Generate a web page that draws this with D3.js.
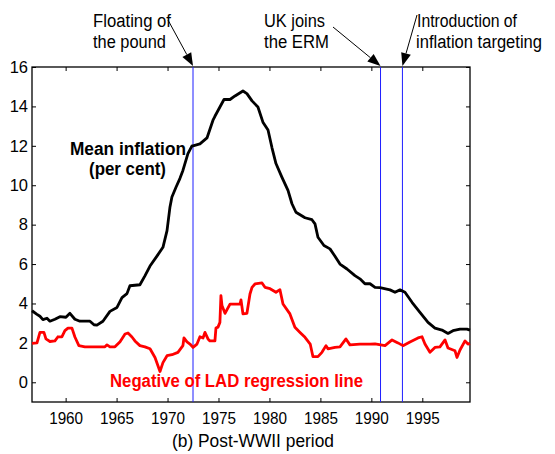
<!DOCTYPE html>
<html><head><meta charset="utf-8">
<script src="https://cdn.jsdelivr.net/npm/d3@7"></script>
<style>body{margin:0;background:#fff}svg{display:block;font-family:"Liberation Sans",Arial,sans-serif}</style>
</head><body>
<svg id="c" width="555" height="454"></svg>
<script>
const meanYears=[1956.70,1957.19,1957.48,1957.77,1958.17,1958.46,1958.95,1959.44,1960.03,1960.42,1960.91,1961.40,1962.39,1962.78,1963.07,1963.66,1964.35,1965.04,1965.53,1966.02,1966.31,1967.29,1967.78,1968.28,1968.96,1969.55,1969.95,1970.24,1970.43,1970.83,1971.22,1971.51,1972.00,1972.40,1972.50,1973.18,1973.87,1974.46,1974.65,1975.14,1975.54,1976.13,1976.62,1977.40,1977.79,1978.29,1978.87,1979.36,1979.86,1980.25,1980.64,1981.23,1981.82,1982.21,1982.60,1983.49,1984.17,1984.47,1984.76,1985.35,1985.94,1986.43,1986.92,1987.61,1988.39,1988.88,1989.37,1989.87,1990.36,1990.85,1991.83,1992.32,1992.81,1993.30,1993.99,1994.77,1995.56,1996.24,1996.93,1997.52,1998.01,1998.70,1999.38,1999.68];
const meanInflation=[3.63,3.45,3.35,3.18,3.25,3.10,3.20,3.33,3.30,3.50,3.20,3.10,3.10,2.92,2.90,3.10,3.60,3.80,4.30,4.50,4.90,4.95,5.40,5.90,6.40,6.85,7.70,8.90,9.40,9.90,10.35,10.75,11.60,12.00,12.00,12.10,12.40,13.30,13.50,13.97,14.35,14.35,14.53,14.78,14.65,14.28,13.97,13.20,12.80,11.90,11.10,10.40,9.74,9.06,8.63,8.35,8.25,8.04,7.36,6.94,6.77,6.40,6.00,5.75,5.41,5.25,5.00,5.00,4.82,4.80,4.69,4.57,4.69,4.57,4.06,3.55,3.04,2.75,2.65,2.48,2.62,2.70,2.70,2.65];
const ladYears=[1956.70,1957.19,1957.48,1957.87,1958.07,1958.46,1958.95,1959.25,1959.63,1959.93,1960.23,1960.62,1960.91,1961.30,1961.89,1963.37,1963.86,1964.06,1964.35,1964.84,1965.34,1965.83,1966.12,1966.51,1966.80,1967.29,1967.78,1968.28,1968.77,1969.06,1969.26,1969.55,1969.95,1970.43,1971.02,1971.51,1971.61,1971.91,1972.20,1972.50,1972.89,1973.18,1973.48,1973.67,1973.97,1974.16,1974.65,1974.75,1974.95,1975.14,1975.24,1975.34,1975.64,1976.13,1977.11,1977.21,1977.40,1977.79,1978.09,1978.29,1978.58,1979.27,1979.56,1980.06,1980.64,1981.03,1981.33,1982.01,1982.50,1983.00,1983.49,1984.00,1984.27,1984.76,1985.15,1985.55,1985.74,1986.43,1986.92,1987.51,1987.90,1988.88,1989.87,1990.36,1991.34,1992.03,1992.61,1993.10,1993.79,1994.58,1994.97,1995.26,1995.75,1996.24,1996.73,1997.23,1997.52,1998.21,1998.40,1998.70,1999.19,1999.48,1999.68];
const ladNegative=[1.97,2.00,2.53,2.53,2.20,2.07,2.10,2.31,2.30,2.62,2.75,2.75,2.30,1.86,1.80,1.80,1.80,1.90,1.80,1.80,2.06,2.45,2.50,2.30,2.10,1.86,1.80,1.70,1.26,0.84,0.55,1.00,1.35,1.40,1.52,1.86,2.25,2.05,1.94,1.77,1.94,2.31,2.25,2.53,2.20,2.10,2.10,2.75,2.80,3.04,4.40,3.90,3.50,3.97,3.97,4.18,3.47,3.50,4.48,4.82,4.99,5.04,4.82,4.75,4.57,4.70,3.97,3.47,2.79,2.53,2.28,1.94,1.30,1.30,1.52,1.86,1.70,1.77,1.80,2.20,1.90,1.94,1.94,1.95,1.86,2.15,2.00,1.86,2.05,2.25,2.31,1.94,1.52,1.77,1.80,2.15,1.74,1.60,1.26,1.64,2.10,1.94,1.97];
const eventYears=[1972.5,1990.9,1993.05];
const eventLabels=[["Floating of","the pound"],["UK joins","the ERM"],["Introduction of","inflation targeting"]];
const xTicks=[1960,1965,1970,1975,1980,1985,1990,1995];
const yTicks=[0,2,4,6,8,10,12,14,16];
const xDomain=[1956.70,1999.68];
const yDomain=[-1,16];

const svg=d3.select("#c");
const L=32,T=67,R=470,B=402;
const x=d3.scaleLinear().domain(xDomain).range([L,R]);
const y=d3.scaleLinear().domain(yDomain).range([B,T]);

const gB=svg.append("g").attr("transform",`translate(0,${B})`).call(d3.axisBottom(x).tickValues(xTicks).tickSizeInner(-4).tickSizeOuter(0).tickPadding(10).tickFormat(d3.format("d")));
const gT=svg.append("g").attr("transform",`translate(0,${T})`).call(d3.axisTop(x).tickValues(xTicks).tickSizeInner(-4).tickSizeOuter(0).tickFormat(""));
const gL=svg.append("g").attr("transform",`translate(${L},0)`).call(d3.axisLeft(y).tickValues(yTicks).tickSizeInner(-4).tickSizeOuter(0).tickPadding(4));
const gR=svg.append("g").attr("transform",`translate(${R},0)`).call(d3.axisRight(y).tickValues(yTicks).tickSizeInner(-4).tickSizeOuter(0).tickFormat(""));
[gB,gT,gL,gR].forEach(g=>{g.select(".domain").remove();g.selectAll("line").attr("stroke","#000").attr("stroke-width",1);g.selectAll("text").attr("font-size",16.5).attr("fill","#000").attr("font-family","Liberation Sans, Arial, sans-serif");});
gB.selectAll("text").attr("textLength",34).attr("lengthAdjust","spacingAndGlyphs");
svg.append("rect").attr("x",L).attr("y",T).attr("width",R-L).attr("height",B-T).attr("fill","none").attr("stroke","#000").attr("stroke-width",1.3);

svg.selectAll(".ev").data(eventYears).enter().append("line")
 .attr("x1",d=>x(d)).attr("x2",d=>x(d)).attr("y1",T).attr("y2",B)
 .attr("stroke","#1f1fff").attr("stroke-width",1);

const line=d3.line().x(d=>x(d[0])).y(d=>y(d[1]));
svg.append("path").datum(meanYears.map((t,i)=>[t,meanInflation[i]])).attr("d",line).attr("fill","none").attr("stroke","#000").attr("stroke-width",2.8).attr("stroke-linejoin","round");
svg.append("path").datum(ladYears.map((t,i)=>[t,ladNegative[i]])).attr("d",line).attr("fill","none").attr("stroke","#ff0000").attr("stroke-width",2.8).attr("stroke-linejoin","round");

const textPos=[[93,27],[264,27],[417,27]];
const textW=[[78,73],[61,65],[100,126]];
const arrowFrom=[[168,20],[333,27],[417,15]];
eventLabels.forEach((lines,i)=>{
  lines.forEach((s,j)=>svg.append("text").attr("x",textPos[i][0]-(i===2&&j===1?1:0)).attr("y",textPos[i][1]+j*21).attr("font-size",18).attr("textLength",textW[i][j]).attr("lengthAdjust","spacingAndGlyphs").text(s));
  const x0=arrowFrom[i][0],y0=arrowFrom[i][1],x1=x(eventYears[i]),y1=T-1;
  const a=Math.atan2(y1-y0,x1-x0),len=13,w=5;
  const bx=x1-len*Math.cos(a),by=y1-len*Math.sin(a);
  svg.append("line").attr("x1",x0).attr("y1",y0).attr("x2",bx).attr("y2",by).attr("stroke","#000").attr("stroke-width",1);
  const px=-Math.sin(a),py=Math.cos(a);
  svg.append("path").attr("d",`M${x1},${y1}L${bx+px*w},${by+py*w}L${bx-px*w},${by-py*w}Z`).attr("fill","#000");
});

svg.append("text").attr("x",70).attr("y",155).attr("font-weight","bold").attr("font-size",18).attr("textLength",116).attr("lengthAdjust","spacingAndGlyphs").text("Mean inflation");
svg.append("text").attr("x",89).attr("y",175).attr("font-weight","bold").attr("font-size",18).attr("textLength",77).attr("lengthAdjust","spacingAndGlyphs").text("(per cent)");
svg.append("text").attr("x",110).attr("y",387).attr("font-weight","bold").attr("font-size",18).attr("fill","#ff0000").attr("textLength",253).attr("lengthAdjust","spacingAndGlyphs").text("Negative of LAD regression line");
svg.append("text").attr("x",172).attr("y",447).attr("font-size",18).attr("textLength",162).attr("lengthAdjust","spacingAndGlyphs").text("(b) Post-WWII period");
</script>
</body></html>
